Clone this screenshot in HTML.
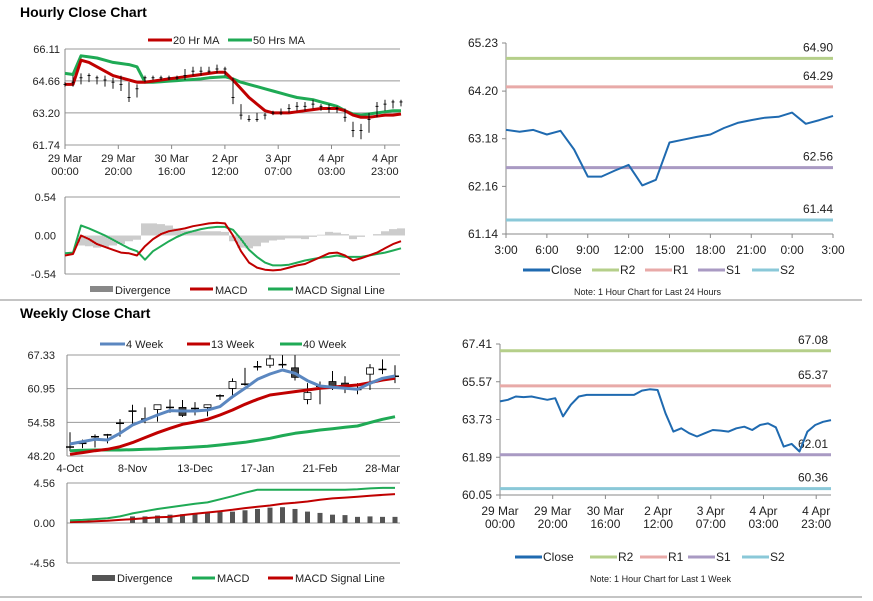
<!DOCTYPE html>
<html><head><meta charset="utf-8"><style>
html,body{margin:0;padding:0;background:#fff;}
svg{display:block;font-family:"Liberation Sans",Arial,sans-serif;}
</style></head><body>
<svg id="c" width="873" height="601" viewBox="0 0 873 601" xmlns="http://www.w3.org/2000/svg">
<text x="20" y="17" font-size="14" font-weight="bold" fill="#000">Hourly Close Chart</text>
<text x="20" y="318" font-size="14" font-weight="bold" fill="#000">Weekly Close Chart</text>
<line x1="0" y1="300" x2="862" y2="300" stroke="#888" stroke-width="1"/>
<line x1="0" y1="597" x2="862" y2="597" stroke="#888" stroke-width="1"/>
</svg>
<script>
// ---------- Hourly candles (3h steps) ----------
const hClose=[64.5,64.6,64.8,64.9,64.8,64.7,64.6,64.5,63.9,64.3,64.8,64.8,64.8,64.8,64.8,64.9,65.1,65.1,65.1,65.2,65.2,63.9,63.1,62.9,62.9,63.1,63.2,63.2,63.4,63.5,63.5,63.6,63.5,63.4,63.4,63.0,62.4,62.4,62.9,63.5,63.6,63.7,63.7];
const hHigh=[64.6,64.9,65.0,65.0,64.9,64.9,64.8,64.9,64.6,64.5,64.9,64.9,64.9,64.9,64.9,65.2,65.3,65.3,65.3,65.4,65.3,64.8,63.6,63.1,63.2,63.2,63.3,63.4,63.6,63.7,63.7,63.8,63.6,63.6,63.5,63.4,62.8,62.7,63.2,63.7,63.8,63.8,63.8];
const hLow=[64.4,64.4,64.5,64.6,64.5,64.4,64.3,64.2,63.7,63.9,64.6,64.7,64.7,64.7,64.7,64.7,64.9,64.9,65.0,65.0,64.9,63.6,62.9,62.8,62.8,62.9,63.1,63.1,63.2,63.3,63.3,63.4,63.3,63.2,63.2,62.8,62.1,62.0,62.3,63.0,63.3,63.4,63.5];
const ma20=[64.5,64.5,65.6,65.5,65.3,65.1,64.9,64.8,64.7,64.6,64.6,64.65,64.7,64.75,64.8,64.85,64.9,64.95,65.0,65.05,65.05,64.7,64.3,63.9,63.6,63.3,63.2,63.2,63.2,63.25,63.3,63.35,63.4,63.4,63.4,63.3,63.1,63.0,63.0,63.05,63.1,63.1,63.15];
const ma50=[65.0,64.95,65.8,65.75,65.7,65.6,65.5,65.45,65.4,65.3,64.6,64.6,64.62,64.65,64.67,64.7,64.72,64.75,64.8,64.82,64.85,64.75,64.6,64.5,64.4,64.3,64.2,64.1,64.0,63.9,63.85,63.8,63.7,63.6,63.5,63.3,63.15,63.1,63.15,63.2,63.25,63.3,63.3];
const hMacd=[-0.28,-0.26,0.0,-0.05,-0.12,-0.16,-0.2,-0.24,-0.25,-0.28,-0.15,-0.05,0.02,0.06,0.08,0.1,0.13,0.15,0.17,0.18,0.17,0.0,-0.22,-0.38,-0.45,-0.48,-0.49,-0.48,-0.45,-0.42,-0.4,-0.35,-0.3,-0.25,-0.24,-0.28,-0.35,-0.32,-0.28,-0.24,-0.18,-0.12,-0.08];
const hSignal=[-0.25,-0.24,0.14,0.1,0.05,0.0,-0.06,-0.12,-0.18,-0.22,-0.34,-0.22,-0.15,-0.08,-0.02,0.03,0.06,0.09,0.11,0.12,0.12,0.08,-0.05,-0.2,-0.3,-0.38,-0.42,-0.42,-0.41,-0.38,-0.35,-0.33,-0.31,-0.3,-0.28,-0.3,-0.3,-0.3,-0.28,-0.26,-0.24,-0.21,-0.18];
const hDiv=[0,0,-0.14,-0.15,-0.17,-0.16,-0.14,-0.12,-0.08,-0.06,0.17,0.17,0.16,0.14,0.10,0.07,0.07,0.06,0.06,0.06,0.05,-0.08,-0.17,-0.18,-0.15,-0.1,-0.07,-0.06,-0.04,-0.04,-0.05,-0.02,0.01,0.05,0.04,0.02,-0.05,-0.02,0.0,0.02,0.06,0.09,0.1];
const hTicks=[["29 Mar","00:00"],["29 Mar","20:00"],["30 Mar","16:00"],["2 Apr","12:00"],["3 Apr","07:00"],["4 Apr","03:00"],["4 Apr","23:00"]];
const hYTicks=[61.74,63.20,64.66,66.11];
const hMacdTicks=[-0.54,0.00,0.54];
// ---------- 24h chart ----------
const dClose=[63.37,63.33,63.37,63.27,63.35,62.95,62.37,62.37,62.5,62.62,62.18,62.3,63.1,63.16,63.22,63.27,63.41,63.52,63.58,63.63,63.65,63.74,63.5,63.58,63.67];
const dLabels=["3:00","6:00","9:00","12:00","15:00","18:00","21:00","0:00","3:00"];
const dYTicks=[61.14,62.16,63.18,64.20,65.23];
const dLevels=[64.90,64.29,62.56,61.44];
// ---------- Weekly candles ----------
const wOpen=[49.9,50.6,51.85,52.2,54.4,56.7,55.2,57.0,57.4,57.4,57.2,57.4,59.6,61.0,61.8,65.1,65.4,65.5,64.9,58.9,61.4,62.3,62.0,60.8,63.7,64.6,63.3];
const wClose=[49.9,50.6,51.85,52.2,54.4,56.7,55.2,57.9,57.4,55.9,57.2,57.9,59.6,62.3,61.8,65.1,66.6,65.5,63.1,60.2,61.4,61.4,61.6,60.8,64.9,64.6,63.3];
const wHigh=[52.7,51.3,52.3,52.4,55.2,57.9,57.4,57.9,58.9,58.8,58.4,57.9,59.9,62.9,64.9,66.2,67.3,67.3,67.3,62.0,62.3,64.3,63.3,62.0,65.6,66.5,65.4];
const wLow=[49.1,49.7,49.8,50.6,51.85,54.3,54.4,54.7,56.4,55.6,55.9,55.7,58.8,59.1,61.5,64.4,64.9,64.9,62.5,58.0,58.0,60.7,60.1,59.9,60.7,63.7,62.0];
const w4=[50.48,50.92,51.36,51.23,52.5,54.08,55.02,55.97,56.79,56.73,56.73,56.92,57.55,59.44,61.02,62.72,63.73,64.49,63.86,62.47,61.46,61.21,61.02,60.83,61.97,62.91,63.36];
const w13=[48.52,48.84,49.21,49.47,49.97,50.73,51.68,52.62,53.44,54.2,54.64,55.15,55.97,56.92,57.99,58.94,59.76,60.07,60.39,60.7,61.02,61.21,61.46,61.65,62.09,62.6,62.91];
const w40=[49.21,49.28,49.34,49.34,49.34,49.4,49.47,49.53,49.66,49.78,49.91,50.04,50.29,50.54,50.79,51.17,51.55,52.06,52.5,52.81,53.13,53.38,53.63,53.89,54.52,55.15,55.65];
const wMacd=[0.3,0.35,0.45,0.55,0.75,1.1,1.35,1.6,1.8,2.0,2.2,2.35,2.7,3.05,3.45,3.8,3.8,3.8,3.8,3.8,3.8,3.8,3.8,3.85,3.95,4.0,4.0];
const wSignal=[0.1,0.15,0.2,0.25,0.35,0.45,0.55,0.65,0.7,0.9,1.05,1.2,1.35,1.5,1.7,1.85,2.0,2.2,2.3,2.45,2.65,2.8,2.9,3.0,3.1,3.2,3.3];
const wDiv=[0,0,0,0,0,0.75,0.75,0.85,0.95,1.0,1.1,1.2,1.25,1.3,1.45,1.6,1.75,1.8,1.6,1.3,1.15,0.95,0.9,0.7,0.75,0.7,0.7];
const wLabels=["4-Oct","8-Nov","13-Dec","17-Jan","21-Feb","28-Mar"];
const wYTicks=[48.20,54.58,60.95,67.33];
const wMacdTicks=[-4.56,0.00,4.56];
// ---------- 1 week hourly chart ----------
const kClose=[64.61,64.69,64.85,64.82,64.85,64.77,64.69,64.77,63.88,64.45,64.85,64.93,64.93,64.93,64.93,64.93,64.93,64.93,65.14,65.2,65.17,64.03,63.14,63.3,63.06,62.9,63.06,63.22,63.19,63.14,63.3,63.38,63.22,63.46,63.54,63.35,62.41,62.54,62.17,63.14,63.46,63.62,63.7];
const kYTicks=[60.05,61.89,63.73,65.57,67.41];
const kLevels=[67.08,65.37,62.01,60.36];

const svg=document.getElementById('c');
const NS='http://www.w3.org/2000/svg';
function mk(tag,at,parent){const e=document.createElementNS(NS,tag);for(const k in at)e.setAttribute(k,at[k]);(parent||svg).appendChild(e);return e;}
function txt(x,y,s,size,anchor,fill,parent){const t=mk('text',{x:x,y:y,'font-size':size,'text-anchor':anchor||'start',fill:fill||'#222'},parent);t.textContent=s;return t;}
function lin(a,b,c,d){return (v)=>c+(v-a)*(d-c)/(b-a);}
function path(xs,ys,color,w,parent){let d='';for(let i=0;i<xs.length;i++)d+=(i?'L':'M')+xs[i].toFixed(1)+' '+ys[i].toFixed(1);return mk('path',{d:d,fill:'none',stroke:color,'stroke-width':w,'stroke-linejoin':'round'},parent);}
function group(name){const g=mk('g',{});return g;}
const RED='#c00000',GREEN='#1faa55',BLUE='#1f6ab0';

// ===== Panel A: hourly price =====
(function(){
const g=group('hourly-price-chart');
const X=lin(0,42,65,401), Y=lin(61.74,66.11,145,49);
hYTicks.forEach((v,i)=>{
 const gl=mk('line',{x1:65,x2:400,y1:Y(v),y2:Y(v),stroke:'#999','stroke-width':1},g);
 
 
 const t=txt(60,Y(v)+4,v.toFixed(2),11,'end','#222',g);
 
 
});
mk('line',{x1:65,x2:65,y1:49,y2:149,stroke:'#888'},g);
hTicks.forEach((lb,i)=>{const x=65+i*53.3;mk('line',{x1:x,x2:x,y1:145,y2:149,stroke:'#888'},g);
 const t1=txt(x,162,lb[0],11,'middle','#222',g);
 
 
 txt(x,175,lb[1],11,'middle','#222',g);});
const cg=group('hourly-candles');
hClose.forEach((c,i)=>{const x=X(i);
 const w=mk('line',{x1:x,x2:x,y1:Y(hHigh[i]),y2:Y(hLow[i]),stroke:'#000','stroke-width':0.9},cg);
 
 
 mk('line',{x1:x-1.5,x2:x+1.5,y1:Y(c),y2:Y(c),stroke:'#000','stroke-width':0.9},cg);
});
const xs=ma20.map((v,i)=>X(i));
const p1=path(xs,ma50.map(Y),GREEN,3,g);
const p2=path(xs,ma20.map(Y),RED,3,g);
const lg=group('hourly-legend');
mk('line',{x1:148,x2:172,y1:40,y2:40,stroke:RED,'stroke-width':3},lg);txt(173,44,'20 Hr MA',11,'start','#222',lg);
mk('line',{x1:228,x2:252,y1:40,y2:40,stroke:GREEN,'stroke-width':3},lg);txt(253,44,'50 Hrs MA',11,'start','#222',lg);
})();

// ===== Panel A2: hourly MACD =====
(function(){
const g=group('hourly-macd-chart');
const X=lin(0,42,65,401), Y=lin(-0.54,0.54,274,197);
[0.54,-0.54].forEach(v=>mk('line',{x1:65,x2:400,y1:Y(v),y2:Y(v),stroke:'#999'},g));
hMacdTicks.forEach(v=>{const t=txt(56,Y(v)+4,v.toFixed(2),11,'end','#222',g);});
mk('line',{x1:65,x2:65,y1:197,y2:274,stroke:'#888'},g);
hDiv.forEach((v,i)=>{if(!v)return;
 for(let k=-3;k<=3;k+=2){const x=X(i)+k;
 const b=mk('line',{x1:x,x2:x,y1:Y(0),y2:Y(v),stroke:'#999','stroke-width':1},g);
 
 }
});
const xs=hMacd.map((v,i)=>X(i));
const s=path(xs,hSignal.map(Y),GREEN,2,g);
const m=path(xs,hMacd.map(Y),RED,2,g);
const lg=group('hourly-macd-legend');
mk('rect',{x:90,y:286,width:23,height:6,fill:'#888'},lg);txt(115,294,'Divergence',11,'start','#222',lg);
mk('line',{x1:190,x2:213,y1:289,y2:289,stroke:RED,'stroke-width':3},lg);txt(215,294,'MACD',11,'start','#222',lg);
mk('line',{x1:268,x2:293,y1:289,y2:289,stroke:GREEN,'stroke-width':3},lg);txt(295,294,'MACD Signal Line',11,'start','#222',lg);
})();

// ===== Level chart helper =====
function levelChart(name,data,x0,x1,yTop,yBot,vTop,vBot,yTicks,levels,labelFn,legendY,legendXs,note,noteY,labelX){
const g=group(name);
const X=lin(0,data.length-1,x0,x1), Y=lin(vBot,vTop,yBot,yTop);
mk('line',{x1:x0,x2:x0,y1:yTop,y2:yBot,stroke:'#888'},g);
mk('line',{x1:x0,x2:x1,y1:yBot,y2:yBot,stroke:'#888'},g);
yTicks.forEach(v=>{mk('line',{x1:x0-4,x2:x0,y1:Y(v),y2:Y(v),stroke:'#888'},g);
 const t=txt(x0-8,Y(v)+4,v.toFixed(2),12,'end','#222',g);});
labelFn(g);
const cols=['#b5cf8a','#e8aaa8','#a99ac3','#8ac8d8'];
levels.forEach((v,i)=>{const l=mk('line',{x1:x0,x2:x1,y1:Y(v),y2:Y(v),stroke:cols[i],'stroke-width':3},g);
 
 txt(labelX,Y(v)-7,v.toFixed(2),12,'end','#222',g);});
const p=path(data.map((v,i)=>X(i)),data.map(Y),BLUE,2,g);
const lg=group(name+'-legend');const names=['Close','R2','R1','S1','S2'];const lc=[BLUE].concat(cols);
names.forEach((n,i)=>{const x=legendXs[i];mk('line',{x1:x,x2:x+27,y1:legendY-4,y2:legendY-4,stroke:lc[i],'stroke-width':3},lg);txt(x+28,legendY,n,12,'start','#222',lg);});
const nt=txt((x0+x1)/2+(name==='daily-level-chart'?-22:-5),noteY,note,9,'middle','#222',g);
return {X:X};
}
levelChart('daily-level-chart',dClose,506,833,43,234,65.23,61.14,dYTicks,dLevels,function(g){
 dLabels.forEach((s,i)=>{const x=506+i*(327/8);mk('line',{x1:x,x2:x,y1:234,y2:238,stroke:'#888'},g);const t=txt(x,254,s,12,'middle','#222',g);});
},274,[523,592,645,698,752],'Note: 1 Hour Chart for Last 24 Hours',295,833);

levelChart('weekly-level-chart',kClose,500,831,344,495,67.41,60.05,kYTicks,kLevels,function(g){
 hTicks.forEach((lb,i)=>{const x=500+i*52.7;mk('line',{x1:x,x2:x,y1:495,y2:499,stroke:'#888'},g);const t=txt(x,515,lb[0],12,'middle','#222',g);txt(x,528,lb[1],12,'middle','#222',g);});
},561,[515,590,640,688,742],'Note: 1 Hour Chart for Last 1 Week',582,828);

// ===== Panel C: weekly price =====
(function(){
const g=group('weekly-price-chart');
const X=lin(0,26,70,395), Y=lin(48.20,67.33,456,355);
wYTicks.forEach(v=>{mk('line',{x1:67,x2:400,y1:Y(v),y2:Y(v),stroke:'#999'},g);
 const t=txt(55,Y(v)+4,v.toFixed(2),11,'end','#222',g);});
mk('line',{x1:67,x2:67,y1:355,y2:456,stroke:'#888'},g);
wLabels.forEach((s,i)=>{const x=70+i*62.5;const t=txt(x,472,s,11,'middle','#222',g);});
wClose.forEach((c,i)=>{const x=X(i),o=wOpen[i];
 const w=mk('line',{x1:x,x2:x,y1:Y(wHigh[i]),y2:Y(wLow[i]),stroke:'#000'},g);
 
 
 const top=Y(Math.max(o,c)),bot=Y(Math.min(o,c));
 if(bot-top<1.5){mk('line',{x1:x-4,x2:x+4,y1:top,y2:top,stroke:'#000','stroke-width':1.5},g);}
 else mk('rect',{x:x-3.5,y:top,width:7,height:bot-top,fill:c>o?'#fff':'#404040',stroke:'#000','stroke-width':0.8},g);
});
const xs=w4.map((v,i)=>X(i));
const a=path(xs,w40.map(Y),GREEN,3,g);
const b=path(xs,w13.map(Y),RED,3,g);
const c=path(xs,w4.map(Y),'#5b87c0',3,g);
const lg=group('weekly-legend');
mk('line',{x1:100,x2:125,y1:344,y2:344,stroke:'#5b87c0','stroke-width':3},lg);txt(126,348,'4 Week',11,'start','#222',lg);
mk('line',{x1:187,x2:210,y1:344,y2:344,stroke:RED,'stroke-width':3},lg);txt(211,348,'13 Week',11,'start','#222',lg);
mk('line',{x1:280,x2:302,y1:344,y2:344,stroke:GREEN,'stroke-width':3},lg);txt(303,348,'40 Week',11,'start','#222',lg);
})();

// ===== Panel C2: weekly MACD =====
(function(){
const g=group('weekly-macd-chart');
const X=lin(0,26,70,395), Y=lin(-4.56,4.56,563,483);
[4.56,0,-4.56].forEach(v=>mk('line',{x1:67,x2:400,y1:Y(v),y2:Y(v),stroke:'#999'},g));
mk('line',{x1:67,x2:67,y1:483,y2:563,stroke:'#888'},g);
wMacdTicks.forEach(v=>{const t=txt(55,Y(v)+4,v.toFixed(2),11,'end','#222',g);});
wDiv.forEach((v,i)=>{if(!v)return;const b=mk('rect',{x:X(i)-2.5,y:Y(v),width:5,height:Y(0)-Y(v),fill:'#555'},g);
 
 });
const xs=wMacd.map((v,i)=>X(i));
const s=path(xs,wSignal.map(Y),RED,2,g);
const m=path(xs,wMacd.map(Y),GREEN,2,g);
const lg=group('weekly-macd-legend');
mk('rect',{x:92,y:575,width:23,height:6,fill:'#555'},lg);txt(117,582,'Divergence',11,'start','#222',lg);
mk('line',{x1:192,x2:215,y1:578,y2:578,stroke:GREEN,'stroke-width':3},lg);txt(217,582,'MACD',11,'start','#222',lg);
mk('line',{x1:268,x2:293,y1:578,y2:578,stroke:RED,'stroke-width':3},lg);txt(295,582,'MACD Signal Line',11,'start','#222',lg);
})();
</script>
</body></html>
